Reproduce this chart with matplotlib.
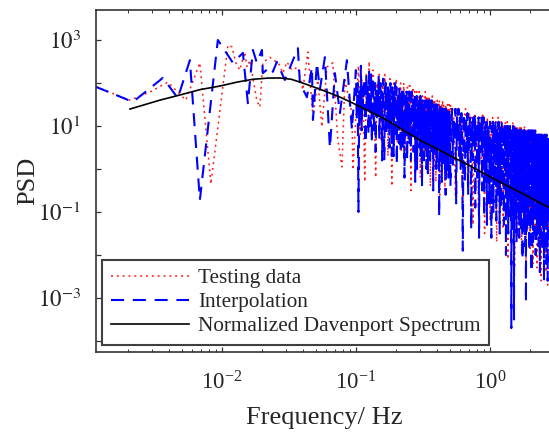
import numpy as np
import matplotlib
matplotlib.use("Agg")
import matplotlib.pyplot as plt
from matplotlib.ticker import LogLocator, FuncFormatter, NullLocator

plt.rcParams["font.family"] = ["Liberation Serif", "DejaVu Serif"]
plt.rcParams["mathtext.fontset"] = "stix"
plt.rcParams["lines.scale_dashes"] = False

# ---- data ----
# low-frequency part, point by point: frequency (Hz) and log10(PSD)
test_f_low = [0.00115, 0.00206, 0.00290, 0.00395, 0.00538, 0.00685, 0.00828, 0.0111,
              0.0119, 0.0127, 0.0136, 0.0148, 0.0154, 0.0162, 0.0182, 0.0192, 0.0202,
              0.0228, 0.0240, 0.0262, 0.0285, 0.0306, 0.0333, 0.0369, 0.0402, 0.0438,
              0.0478, 0.0520, 0.0557, 0.0608, 0.0673, 0.0734, 0.0787, 0.0828, 0.0934, 0.0950]
test_lp_low = [1.91, 1.60, 1.79, 2.02, 1.60, 2.47, -0.35, 2.88,
               2.84, 2.47, 2.30, 2.72, 2.37, 2.53, 1.60, 1.44, 2.47,
               2.60, 2.53, 2.49, 2.23, 2.49, 2.30, 2.37, 1.84, 2.72,
               1.21, 2.07, 0.98, 2.37, 2.47, 0.67, 0.05, 2.07, 1.30, -0.02]

interp_f_low = [0.00115, 0.00217, 0.00363, 0.00469, 0.00577, 0.00685, 0.00933, 0.01208,
                0.01435, 0.01563, 0.01703, 0.01824, 0.0199, 0.0202, 0.0228, 0.0240, 0.0257,
                0.0295, 0.0333, 0.0369, 0.0382, 0.0431, 0.0470, 0.0478, 0.0512, 0.0538,
                0.0587, 0.0640, 0.0697, 0.0760, 0.0857, 0.0934]
interp_lp_low = [1.91, 1.56, 2.12, 1.65, 2.53, -0.72, 3.00, 2.47,
                 2.70, 1.53, 2.77, 2.47, 2.77, 2.23, 2.37, 2.26, 2.49,
                 2.07, 2.47, 2.81, 2.00, 1.67, 2.37, 1.14, 2.47, 1.84,
                 2.60, 0.49, 2.23, 1.30, 2.53, 0.91]

# dense part: log10(PSD) on evenly spaced spectral lines
# testing data: 0.1 .. 0.5 Hz every 0.003 Hz, 0.5 .. 2.75 Hz every 0.015 Hz
test_lp_mid = [
    1.6, 2.4, 0.8, 2.1, 1.5, -0.3, 2.2, 1.3, 2.5, 1.0,
    1.9, 2.3, 1.1, -0.2, 2.0, 1.6, 2.2, 0.7, 1.4, 2.1,
    0.9, 2.2, 1.5, 1.9, 0.3, 1.7, 2.1, 1.2, -0.4, 1.8,
    2.0, 1.0, 1.6, 2.1, 0.6, 1.3, 1.9, 1.5, 2.0, 0.4,
    1.7, 1.0, 2.0, 1.4, 0.2, 1.8, 1.5, 1.9, 0.7, 1.6,
    2.0, 1.1, -0.5, 1.7, 1.3, 1.9, 0.8, 1.5, 1.8, 0.1,
    1.4, 1.8, 1.0, 1.6, 0.5, 1.8, 1.2, -0.2, 1.7, 1.4,
    0.8, 1.7, 1.3, 1.6, 0.3, 1.5, 1.8, 0.9, 1.2, 1.7,
    0.4, 1.5, 1.1, 1.7, 0.6, 1.4, -0.4, 1.6, 1.2, 1.5,
    1.7, 0.8, 1.3, 1.6, 0.0, 1.4, 1.6, 1.0, -0.3, 1.5,
    0.9, 1.6, 1.2, 0.4, 1.5, 1.3, 1.6, -0.6, 1.1, 1.5,
    1.3, 0.5, 1.5, 1.0, 1.6, 0.2, 1.3, 1.5, 0.8, 1.4,
    -0.5, 1.2, 1.5, 0.6, 1.4, 1.1, 0.3, 1.5, 1.2, -0.2,
    1.4, 1.0, 1.5, 0.5]
test_lp_high = [
    1.5, 0.6, 1.2, -0.6, 1.4, 1.0, 0.2, 1.3, -1.1, 1.2,
    1.4, 0.5, -0.4, 1.3, 0.9, 1.2, -1.3, 1.0, 1.3, 0.3,
    1.1, -0.9, 1.2, 0.8, -0.2, 1.3, 1.0, -1.5, 1.1, 0.6,
    1.2, 0.1, 1.0, -1.2, 1.1, 0.7, 1.2, -0.5, 1.0, 0.4,
    1.1, -1.7, 0.9, 1.2, 0.2, 1.0, -0.9, 1.1, 0.6, 1.0,
    -1.4, 1.0, 0.5, 1.1, -0.3, 0.9, 1.1, -2.1, 0.8, 1.0,
    0.2, 1.0, -1.2, 0.9, 0.6, 1.1, -0.6, 0.8, -2.3, 1.0,
    0.7, -0.4, 0.9, 1.0, -1.6, 0.8, 0.4, 1.0, -0.9, 0.8,
    1.0, -2.0, 0.7, 0.3, 0.9, -1.1, 0.8, 1.0, -0.3, 0.7,
    -2.5, 0.9, 0.5, 0.8, -1.4, 0.7, 0.9, -0.6, 0.8, -1.9,
    0.6, 0.9, -1.0, 0.7, 0.2, 0.8, -2.2, 0.6, 0.9, -0.7,
    0.8, -1.5, 0.6, 0.9, -0.2, 0.7, -2.3, 0.5, 0.8, -1.1,
    0.7, 0.3, -1.8, 0.8, 0.6, -0.8, 0.7, -2.6, 0.5, 0.8,
    -1.3, 0.6, 0.8, -0.5, 0.7, -2.0, 0.6, 0.4, -1.2, 0.7,
    0.5, -2.4, 0.7, 0.2, -1.0, 0.6, -2.7, 0.5, 0.7, -1.4, 0.5]

# interpolation: 0.1 .. 0.5 Hz every 0.0015 Hz, 0.5 .. 2.75 Hz every 0.0075 Hz
interp_lp_mid = [
    2.3, 1.2, 2.0, -1.0, 1.8, 1.1, 2.4, 0.9, 1.9, 1.4,
    2.1, 1.6, 0.6, 2.2, 1.4, 1.9, 0.8, 2.3, 1.5, 1.0,
    2.2, 0.6, 1.7, 2.1, 0.9, 1.5, 2.0, 0.4, 1.8, 1.2,
    1.9, 1.3, 2.2, 0.7, 1.6, 2.0, 1.1, 1.8, 0.2, 1.5,
    2.1, 1.0, 0.2, 1.9, 1.4, 2.0, 0.8, 1.6, 1.1, 1.9,
    1.2, 1.8, 0.5, 1.7, 2.0, 1.0, 1.5, 0.3, 1.9, 1.3,
    1.5, 0.3, 1.8, 1.2, 2.0, 0.7, 1.4, 1.9, 0.1, 1.6,
    1.0, 1.7, 1.3, 0.6, 1.9, 1.1, 1.6, 0.4, 1.8, 1.2,
    1.1, 1.8, 0.5, 1.5, 1.9, 0.9, 1.3, -0.2, 1.7, 1.2,
    1.6, 0.8, 1.4, 1.8, 0.2, 1.2, 1.7, 1.0, 1.5, 0.6,
    1.8, 0.6, 1.4, 1.0, 1.7, 0.2, 1.5, 1.8, 0.8, 1.2,
    1.5, 1.1, 1.7, 0.4, 1.3, 1.6, 0.9, 1.7, -0.3, 1.2,
    1.6, 0.4, 1.3, 1.7, 0.0, 1.1, 1.5, 0.7, 1.6, 1.0,
    1.3, 1.6, 0.5, 1.4, 1.0, 1.7, 0.3, 1.2, 1.5, 0.8,
    1.4, -0.4, 1.2, 1.6, 0.6, 1.3, 0.9, 1.5, 0.2, 1.1,
    1.5, 0.7, 1.3, 1.6, 0.4, 1.1, 1.4, 0.0, 1.3, 0.9,
    1.6, 0.8, 1.3, -0.1, 1.4, 1.0, 1.5, 0.5, 1.2, 1.6,
    0.9, 1.4, 0.2, 1.2, 1.5, 0.7, 1.3, 1.0, 1.6, 0.4,
    0.3, 1.1, 1.4, 0.7, 1.3, -0.5, 1.0, 1.5, 0.6, 1.2,
    1.4, 0.9, 1.5, 0.3, 1.2, 1.4, 0.6, 1.1, 1.5, 0.0,
    1.4, 0.1, 1.1, 1.5, 0.5, 0.9, 1.3, 0.4, 1.2, 1.4,
    0.8, 1.3, -1.1, 1.0, 1.4, 0.6, 1.2, 1.5, 0.2, 1.1,
    0.2, 1.0, 1.3, 0.6, 1.4, -0.3, 1.1, 1.3, 0.5, 0.9,
    1.3, 0.7, 1.4, 0.1, 1.2, 1.0, 1.4, 0.4, 1.1, 1.3,
    1.4, 0.0, 1.2, 0.7, 1.3, -0.6, 1.0, 1.4, 0.3, 1.1,
    0.9, 1.3, 0.4, 1.2, 1.4, -0.1, 1.1, 0.6, 1.3, 0.8,
    1.3, -0.2, 1.0, 1.4, 0.5, 1.2, 0.8]
interp_lp_high = [
    1.3, -0.4, 0.9, 1.4, 0.1, 1.1, 0.7, 1.4, -0.8, 1.2,
    0.6, 1.4, 0.3, 1.2, 0.0, 1.3, 0.8, -1.9, 1.1, 1.3,
    -0.3, 0.9, 1.2, 0.4, 1.3, -0.6, 1.0, 0.5, 1.2, 0.8,
    -1.4, 0.8, 1.1, 0.2, 1.2, 0.6, 1.3, -0.9, 1.0, 0.6,
    1.1, -0.2, 0.9, 1.2, -1.6, 1.1, 0.4, 1.0, 0.7, 1.2,
    -0.5, 1.1, 0.7, 1.2, -1.1, 0.9, 1.0, -0.3, 0.8, 1.1,
    -1.3, 0.9, 0.3, 1.0, 0.6, -0.8, 0.8, 1.1, -0.2, 0.7,
    -1.6, 1.0, 0.5, 0.9, 1.1, -1.0, 1.0, 0.2, 0.8, -0.4,
    1.1, 0.6, -1.2, 0.9, 0.3, 1.0, -0.6, 0.9, 1.1, -0.1,
    0.8, -1.5, 1.0, 0.4, 0.9, -0.9, 0.7, 1.1, 0.0, 0.8,
    -0.7, 1.0, 0.5, -1.3, 0.9, 0.7, 1.0, -0.4, 0.8, -2.0,
    0.9, 0.3, 1.0, -0.8, 0.8, 1.0, -1.5, 0.7, 0.4, 0.9,
    -0.3, 1.0, 0.6, -1.1, 0.9, 0.2, -3.7, 0.8, 1.0, -0.6,
    0.9, 0.5, -1.4, 1.0, 0.6, -3.5, 0.7, 1.0, -0.4, 0.8,
    -1.2, 0.9, 0.3, 1.0, -1.7, 0.7, 0.9, -0.5, 0.8, 0.1,
    0.9, -1.0, 0.8, 0.4, -1.6, 0.9, 0.6, -0.7, 0.8, 1.0,
    -1.4, 0.7, 0.2, 0.9, -0.9, 0.8, 0.5, -2.1, 0.9, 0.3,
    0.8, -0.6, 0.9, -1.3, 0.7, 0.9, -0.2, 0.8, -1.8, 0.6,
    0.9, -3.1, 0.8, 0.4, -1.5, 0.9, 0.2, 0.8, -0.8, 0.7,
    -1.2, 0.9, 0.5, -0.5, 0.8, -1.9, 0.7, 0.9, -0.9, 0.6,
    0.8, -1.4, 0.7, 0.3, -0.6, 0.9, -2.4, 0.6, 0.8, -1.0,
    0.7, -0.3, 0.9, -1.7, 0.6, 0.8, -1.1, 0.7, 0.2, -0.8,
    0.8, -1.5, 0.6, 0.9, -0.7, 0.7, -2.0, 0.5, 0.8, -1.2,
    0.6, 0.1, -1.6, 0.8, 0.4, -0.9, 0.7, -1.4, 0.8, -0.4,
    0.6, -1.8, 0.7, 0.3, -1.2, 0.8, -0.6, 0.6, -2.4, 0.5,
    0.8, -1.0, 0.6, -0.3, 0.7, -1.6, 0.5, 0.8, -1.3, 0.6,
    -0.8, 0.7, -1.9, 0.6, 0.2, -1.1, 0.8, -0.5, 0.6, -1.5,
    0.7, -2.6, 0.6, -0.9, 0.8, 0.1, -1.3, 0.7, -0.6, 0.5,
    -1.7, 0.7, 0.3, -1.0, 0.6, -2.2, 0.8, -0.4, 0.5, -1.4,
    0.7, -0.8, 0.6, -2.6, 0.5, 0.8, -1.2, 0.6, -0.5, 0.7,
    -1.6]

# normalized Davenport spectrum
dav_f = [0.00206, 0.00345, 0.00486, 0.00685, 0.00966, 0.0130, 0.0170, 0.0220, 0.0271,
         0.0330, 0.0400, 0.0538, 0.0750, 0.0950, 0.130, 0.170, 0.230, 0.300, 0.400,
         0.530, 0.700, 0.950, 1.25, 1.67, 2.20, 2.75]
dav_psd = [24.8, 40.0, 52.6, 70.0, 85.0, 105.0, 122.0, 130.0, 131.0,
           122.0, 100.0, 72.0, 48.0, 34.0, 21.0, 13.8, 7.7, 4.7, 2.97,
           1.89, 1.21, 0.72, 0.46, 0.29, 0.184, 0.128]

# ---- assemble series ----
test_f = np.concatenate([test_f_low,
                         0.1015 + 0.003 * np.arange(len(test_lp_mid)),
                         0.5075 + 0.015 * np.arange(len(test_lp_high))])
test_psd = 10.0 ** np.concatenate([test_lp_low, test_lp_mid, test_lp_high])

interp_f = np.concatenate([interp_f_low,
                           0.100 + 0.0015 * np.arange(len(interp_lp_mid)),
                           0.500 + 0.0075 * np.arange(len(interp_lp_high))])
interp_psd = 10.0 ** np.concatenate([interp_lp_low, interp_lp_mid, interp_lp_high])

# ---- plot ----
fig = plt.figure(figsize=(5.49, 4.38), dpi=100)
ax = fig.add_axes([96 / 549, 86 / 438, 474.6 / 549, 342 / 438])

ax.loglog(test_f, test_psd, color="#ff1a1a", lw=1.1, linestyle=(0, (1.4, 2.8)),
          label="Testing data")
ax.loglog(interp_f, interp_psd, color="#0000ff", lw=1.5, linestyle=(0, (9.4, 6.3)),
          label="Interpolation")
ax.loglog(dav_f, dav_psd, color="k", lw=1.2, label="Normalized Davenport Spectrum")

ax.set_xlim(0.00115, 4.0)
ax.set_ylim(10 ** -4.256, 10 ** 3.698)

ax.xaxis.set_major_locator(LogLocator(base=10, numticks=20))
ax.xaxis.set_minor_locator(LogLocator(base=10, subs=np.arange(2, 10), numticks=20))
ax.yaxis.set_major_locator(LogLocator(base=10, subs=(1.0,), numticks=20))
ax.yaxis.set_minor_locator(NullLocator())


def ylabel_fmt(v, pos):
    e = int(round(np.log10(v)))
    return r"$10^{%d}$" % e if e % 2 else ""


ax.yaxis.set_major_formatter(FuncFormatter(ylabel_fmt))

for sp in ax.spines.values():
    sp.set_color("#333333")
    sp.set_linewidth(1.2)

ax.tick_params(which="both", direction="in", top=True, right=False,
               color="#333333", labelcolor="#262626", labelsize=16.5)
ax.tick_params(which="major", length=3.6, width=0.9)
ax.tick_params(which="minor", length=2.2, width=0.7)
ax.tick_params(axis="x", which="major", pad=14)
ax.tick_params(axis="y", which="major", pad=11)

ax.set_xlabel("Frequency/ Hz", fontsize=19, color="#262626")
ax.set_ylabel("PSD", fontsize=19, color="#262626")
ax.xaxis.set_label_coords((324.5 - 96) / 474.6, (352 - 407) / 342)
ax.yaxis.set_label_coords((39 - 96) / 474.6, 0.5)

leg = ax.legend(loc="lower left", bbox_to_anchor=(6 / 474.6, 7 / 342), borderaxespad=0,
                fontsize=15.3, handlelength=3.7, handletextpad=0.43, labelspacing=0.2,
                borderpad=0.4, fancybox=False, framealpha=1, edgecolor="#404040")
leg.get_frame().set_linewidth(1.5)
for t in leg.get_texts():
    t.set_color("#262626")

fig.savefig("out.png", dpi=100)
